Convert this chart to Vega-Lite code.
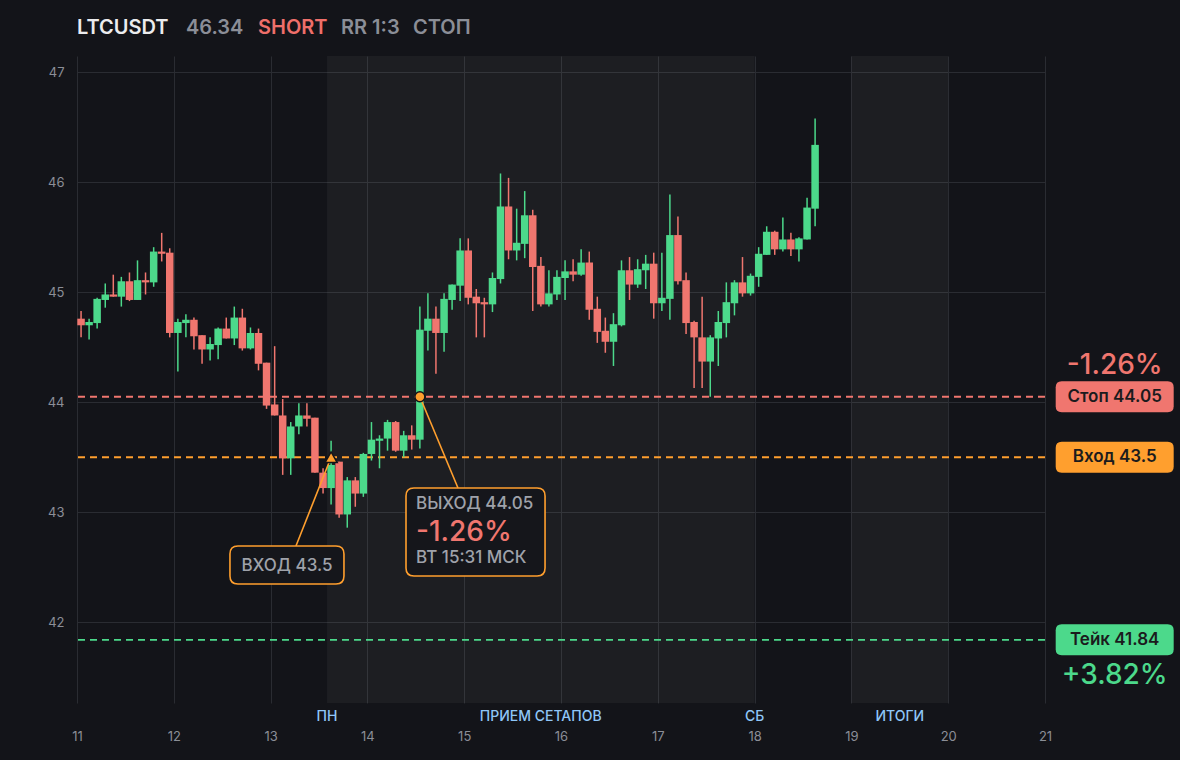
{
  "$schema": "https://vega.github.io/schema/vega-lite/v6.json",
  "width": 968,
  "height": 647,
  "autosize": {"type": "none"},
  "padding": {"left": 77, "top": 56, "right": 135, "bottom": 57},
  "background": "#131419",
  "config": {
    "view": {"stroke": null, "fill": "#131419"},
    "font": "Inter",
    "axis": {"labelFont": "Inter"}
  },
  "datasets": {
    "one": [{}],
    "bands": [
      {"start": 13.583, "end": 18},
      {"start": 19, "end": 20}
    ],
    "bandLabels": [
      {"at": 13.583, "text": "ПН"},
      {"at": 15.79, "text": "ПРИЕМ СЕТАПОВ"},
      {"at": 18, "text": "СБ"},
      {"at": 19.5, "text": "ИТОГИ"}
    ],
    "levels": [
      {"name": "Стоп", "price": 44.05, "label": "Стоп 44.05"},
      {"name": "Вход", "price": 43.5, "label": "Вход 43.5"},
      {"name": "Тейк", "price": 41.84, "label": "Тейк 41.84"}
    ],
    "trades": [
      {"kind": "entry", "t": 13.625, "price": 43.5, "bt": 13.262, "bp": 42.694},
      {"kind": "exit", "t": 14.542, "price": 44.05, "bt": 14.936, "bp": 43.221}
    ],
    "candles": [
      {"t": 11.042, "o": 44.76, "h": 44.83, "l": 44.59, "c": 44.70},
      {"t": 11.125, "o": 44.70, "h": 44.76, "l": 44.57, "c": 44.73},
      {"t": 11.208, "o": 44.72, "h": 44.95, "l": 44.67, "c": 44.94},
      {"t": 11.292, "o": 44.93, "h": 45.08, "l": 44.86, "c": 44.98},
      {"t": 11.375, "o": 44.98, "h": 45.16, "l": 44.96, "c": 44.96},
      {"t": 11.458, "o": 44.96, "h": 45.14, "l": 44.87, "c": 45.10},
      {"t": 11.542, "o": 45.10, "h": 45.18, "l": 44.92, "c": 44.93},
      {"t": 11.625, "o": 44.93, "h": 45.29, "l": 44.93, "c": 45.11},
      {"t": 11.708, "o": 45.11, "h": 45.18, "l": 44.98, "c": 45.09},
      {"t": 11.792, "o": 45.09, "h": 45.41, "l": 45.05, "c": 45.37},
      {"t": 11.875, "o": 45.37, "h": 45.54, "l": 45.28, "c": 45.35},
      {"t": 11.958, "o": 45.36, "h": 45.40, "l": 44.59, "c": 44.63},
      {"t": 12.042, "o": 44.63, "h": 44.76, "l": 44.28, "c": 44.73},
      {"t": 12.125, "o": 44.72, "h": 44.80, "l": 44.59, "c": 44.75},
      {"t": 12.208, "o": 44.75, "h": 44.77, "l": 44.48, "c": 44.60},
      {"t": 12.292, "o": 44.61, "h": 44.61, "l": 44.35, "c": 44.48},
      {"t": 12.375, "o": 44.48, "h": 44.59, "l": 44.38, "c": 44.53},
      {"t": 12.458, "o": 44.52, "h": 44.68, "l": 44.39, "c": 44.67},
      {"t": 12.542, "o": 44.67, "h": 44.77, "l": 44.58, "c": 44.58},
      {"t": 12.625, "o": 44.58, "h": 44.87, "l": 44.52, "c": 44.77},
      {"t": 12.708, "o": 44.77, "h": 44.85, "l": 44.47, "c": 44.49},
      {"t": 12.792, "o": 44.49, "h": 44.68, "l": 44.48, "c": 44.63},
      {"t": 12.875, "o": 44.63, "h": 44.67, "l": 44.29, "c": 44.35},
      {"t": 12.958, "o": 44.36, "h": 44.36, "l": 43.94, "c": 43.97},
      {"t": 13.042, "o": 43.98, "h": 44.51, "l": 43.88, "c": 43.88},
      {"t": 13.125, "o": 43.88, "h": 44.03, "l": 43.34, "c": 43.49},
      {"t": 13.208, "o": 43.49, "h": 43.82, "l": 43.34, "c": 43.78},
      {"t": 13.292, "o": 43.78, "h": 43.99, "l": 43.71, "c": 43.88},
      {"t": 13.375, "o": 43.88, "h": 43.99, "l": 43.78, "c": 43.85},
      {"t": 13.458, "o": 43.86, "h": 43.86, "l": 43.36, "c": 43.36},
      {"t": 13.542, "o": 43.36, "h": 43.40, "l": 43.17, "c": 43.22},
      {"t": 13.625, "o": 43.22, "h": 43.65, "l": 43.07, "c": 43.43},
      {"t": 13.708, "o": 43.46, "h": 43.46, "l": 42.95, "c": 42.98},
      {"t": 13.792, "o": 42.98, "h": 43.32, "l": 42.86, "c": 43.29},
      {"t": 13.875, "o": 43.29, "h": 43.32, "l": 43.05, "c": 43.17},
      {"t": 13.958, "o": 43.17, "h": 43.54, "l": 43.14, "c": 43.53},
      {"t": 14.042, "o": 43.53, "h": 43.82, "l": 43.47, "c": 43.66},
      {"t": 14.125, "o": 43.65, "h": 43.70, "l": 43.40, "c": 43.67},
      {"t": 14.208, "o": 43.67, "h": 43.84, "l": 43.56, "c": 43.82},
      {"t": 14.292, "o": 43.82, "h": 43.83, "l": 43.55, "c": 43.56},
      {"t": 14.375, "o": 43.56, "h": 43.74, "l": 43.50, "c": 43.70},
      {"t": 14.458, "o": 43.70, "h": 43.79, "l": 43.57, "c": 43.66},
      {"t": 14.542, "o": 43.66, "h": 44.87, "l": 43.58, "c": 44.66},
      {"t": 14.625, "o": 44.65, "h": 44.99, "l": 44.47, "c": 44.76},
      {"t": 14.708, "o": 44.76, "h": 44.87, "l": 44.26, "c": 44.63},
      {"t": 14.792, "o": 44.63, "h": 44.99, "l": 44.46, "c": 44.94},
      {"t": 14.875, "o": 44.93, "h": 45.07, "l": 44.84, "c": 45.07},
      {"t": 14.958, "o": 45.06, "h": 45.49, "l": 44.92, "c": 45.38},
      {"t": 15.042, "o": 45.38, "h": 45.49, "l": 44.89, "c": 44.95},
      {"t": 15.125, "o": 44.96, "h": 45.03, "l": 44.59, "c": 44.90},
      {"t": 15.208, "o": 44.91, "h": 44.95, "l": 44.59, "c": 44.89},
      {"t": 15.292, "o": 44.89, "h": 45.18, "l": 44.82, "c": 45.13},
      {"t": 15.375, "o": 45.12, "h": 46.08, "l": 45.08, "c": 45.78},
      {"t": 15.458, "o": 45.78, "h": 46.04, "l": 45.30, "c": 45.38},
      {"t": 15.542, "o": 45.38, "h": 45.76, "l": 45.29, "c": 45.45},
      {"t": 15.625, "o": 45.44, "h": 45.92, "l": 45.31, "c": 45.70},
      {"t": 15.708, "o": 45.70, "h": 45.75, "l": 44.83, "c": 45.23},
      {"t": 15.792, "o": 45.24, "h": 45.32, "l": 44.87, "c": 44.89},
      {"t": 15.875, "o": 44.89, "h": 45.20, "l": 44.87, "c": 44.99},
      {"t": 15.958, "o": 44.98, "h": 45.20, "l": 44.93, "c": 45.14},
      {"t": 16.042, "o": 45.13, "h": 45.29, "l": 44.93, "c": 45.19},
      {"t": 16.125, "o": 45.19, "h": 45.30, "l": 45.10, "c": 45.16},
      {"t": 16.208, "o": 45.16, "h": 45.39, "l": 45.15, "c": 45.27},
      {"t": 16.292, "o": 45.27, "h": 45.37, "l": 44.75, "c": 44.84},
      {"t": 16.375, "o": 44.85, "h": 44.96, "l": 44.54, "c": 44.64},
      {"t": 16.458, "o": 44.65, "h": 44.77, "l": 44.45, "c": 44.55},
      {"t": 16.542, "o": 44.55, "h": 44.81, "l": 44.33, "c": 44.71},
      {"t": 16.625, "o": 44.70, "h": 45.29, "l": 44.69, "c": 45.20},
      {"t": 16.708, "o": 45.20, "h": 45.32, "l": 44.93, "c": 45.07},
      {"t": 16.792, "o": 45.07, "h": 45.30, "l": 45.04, "c": 45.21},
      {"t": 16.875, "o": 45.20, "h": 45.34, "l": 45.03, "c": 45.26},
      {"t": 16.958, "o": 45.26, "h": 45.36, "l": 44.76, "c": 44.90},
      {"t": 17.042, "o": 44.90, "h": 45.36, "l": 44.83, "c": 44.95},
      {"t": 17.125, "o": 44.94, "h": 45.89, "l": 44.75, "c": 45.52},
      {"t": 17.208, "o": 45.52, "h": 45.69, "l": 45.07, "c": 45.10},
      {"t": 17.292, "o": 45.11, "h": 45.18, "l": 44.62, "c": 44.72},
      {"t": 17.375, "o": 44.73, "h": 44.74, "l": 44.13, "c": 44.59},
      {"t": 17.458, "o": 44.59, "h": 44.96, "l": 44.13, "c": 44.37},
      {"t": 17.542, "o": 44.37, "h": 44.61, "l": 44.05, "c": 44.59},
      {"t": 17.625, "o": 44.58, "h": 44.83, "l": 44.33, "c": 44.73},
      {"t": 17.708, "o": 44.72, "h": 45.09, "l": 44.59, "c": 44.91},
      {"t": 17.792, "o": 44.90, "h": 45.11, "l": 44.79, "c": 45.09},
      {"t": 17.875, "o": 45.09, "h": 45.32, "l": 44.96, "c": 44.99},
      {"t": 17.958, "o": 44.99, "h": 45.17, "l": 44.97, "c": 45.15},
      {"t": 18.042, "o": 45.14, "h": 45.41, "l": 45.05, "c": 45.35},
      {"t": 18.125, "o": 45.34, "h": 45.60, "l": 45.34, "c": 45.55},
      {"t": 18.208, "o": 45.55, "h": 45.56, "l": 45.34, "c": 45.39},
      {"t": 18.292, "o": 45.39, "h": 45.68, "l": 45.37, "c": 45.48},
      {"t": 18.375, "o": 45.48, "h": 45.54, "l": 45.33, "c": 45.39},
      {"t": 18.458, "o": 45.39, "h": 45.50, "l": 45.28, "c": 45.49},
      {"t": 18.542, "o": 45.48, "h": 45.86, "l": 45.48, "c": 45.77},
      {"t": 18.625, "o": 45.76, "h": 46.58, "l": 45.60, "c": 46.34}
    ]
  },
  "layer": [
    {
      "data": {"name": "bands"},
      "mark": {"type": "rect", "fill": "#ffffff", "opacity": 0.045},
      "encoding": {
        "x": {
          "field": "start", "type": "quantitative",
          "scale": {"domain": [11, 21], "nice": false, "zero": false, "padding": 0},
          "axis": {
            "values": [11, 12, 13, 14, 15, 16, 17, 18, 19, 20, 21],
            "format": "d",
            "grid": true, "gridColor": "#2a2c32", "gridWidth": 1,
            "ticks": false, "domain": false, "title": null,
            "labelColor": "#8b8e97", "labelFontSize": 13, "labelPadding": 27,
            "labelFlush": false
          }
        },
        "x2": {"field": "end"}
      }
    },
    {
      "data": {"name": "levels"},
      "mark": {"type": "rule", "strokeDash": [7, 5], "strokeWidth": 1.8},
      "encoding": {
        "y": {
          "field": "price", "type": "quantitative",
          "scale": {"domain": [41.266, 47.148], "nice": false, "zero": false},
          "axis": {
            "values": [42, 43, 44, 45, 46, 47],
            "format": "d",
            "grid": true, "gridColor": "#2a2c32", "gridWidth": 1,
            "ticks": false, "domain": false, "title": null,
            "labelColor": "#8b8e97", "labelFontSize": 13, "labelPadding": 13
          }
        },
        "color": {
          "field": "name", "type": "nominal",
          "scale": {"domain": ["Стоп", "Вход", "Тейк"], "range": ["#f0766f", "#ff9f2e", "#4cd98b"]},
          "legend": null
        }
      }
    },
    {
      "data": {"name": "candles"},
      "mark": {"type": "rule", "strokeWidth": 1.5},
      "encoding": {
        "x": {"field": "t", "type": "quantitative"},
        "y": {"field": "l", "type": "quantitative"},
        "y2": {"field": "h"},
        "color": {"condition": {"test": "datum.c >= datum.o", "value": "#4cd98b"}, "value": "#f0766f"}
      }
    },
    {
      "data": {"name": "candles"},
      "mark": {"type": "bar", "width": 7.5},
      "encoding": {
        "x": {"field": "t", "type": "quantitative"},
        "y": {"field": "o", "type": "quantitative"},
        "y2": {"field": "c"},
        "color": {"condition": {"test": "datum.c >= datum.o", "value": "#4cd98b"}, "value": "#f0766f"}
      }
    },
    {
      "data": {"name": "trades"},
      "mark": {"type": "rule", "color": "#ff9f2e", "strokeWidth": 1.6},
      "encoding": {
        "x": {"field": "t", "type": "quantitative"},
        "y": {"field": "price", "type": "quantitative"},
        "x2": {"field": "bt"},
        "y2": {"field": "bp"}
      }
    },
    {
      "data": {"name": "trades"},
      "mark": {"type": "point", "filled": true, "opacity": 1, "fill": "#ff9f2e", "stroke": "#131419", "strokeWidth": 1.5},
      "encoding": {
        "x": {"field": "t", "type": "quantitative"},
        "y": {"field": "price", "type": "quantitative"},
        "shape": {"field": "kind", "type": "nominal", "scale": {"domain": ["entry", "exit"], "range": ["triangle-up", "circle"]}, "legend": null},
        "size": {"field": "kind", "type": "nominal", "scale": {"domain": ["entry", "exit"], "range": [150, 100]}, "legend": null}
      }
    },
    {
      "data": {"name": "one"},
      "mark": {
        "type": "point", "filled": true, "opacity": 1, "fill": "#15161b", "stroke": "#ff9f2e", "strokeWidth": 1.6,
        "size": 1444,
        "shape": "M -2.58,-1 L 2.58,-1 Q 3,-1 3,-0.58 L 3,0.58 Q 3,1 2.58,1 L -2.58,1 Q -3,1 -3,0.58 L -3,-0.58 Q -3,-1 -2.58,-1 Z"
      },
      "encoding": {
        "x": {"datum": 13.169, "type": "quantitative"},
        "y": {"datum": 42.521, "type": "quantitative"}
      }
    },
    {
      "data": {"name": "one"},
      "mark": {
        "type": "point", "filled": true, "opacity": 1, "fill": "#15161b", "stroke": "#ff9f2e", "strokeWidth": 1.6,
        "size": 7744,
        "shape": "M -1.4,-1 L 1.4,-1 Q 1.58,-1 1.58,-0.82 L 1.58,0.82 Q 1.58,1 1.4,1 L -1.4,1 Q -1.58,1 -1.58,0.82 L -1.58,-0.82 Q -1.58,-1 -1.4,-1 Z"
      },
      "encoding": {
        "x": {"datum": 15.117, "type": "quantitative"},
        "y": {"datum": 42.821, "type": "quantitative"}
      }
    },
    {
      "data": {"name": "one"},
      "mark": {"type": "text", "text": "ВХОД 43.5", "fontSize": 17, "fontWeight": 500, "fill": "#9fa2aa", "align": "center", "baseline": "middle"},
      "encoding": {
        "x": {"datum": 13.169, "type": "quantitative"},
        "y": {"datum": 42.515, "type": "quantitative"}
      }
    },
    {
      "data": {"name": "one"},
      "mark": {"type": "text", "text": "ВЫХОД 44.05", "fontSize": 17, "fontWeight": 500, "fill": "#9fa2aa", "align": "left", "baseline": "middle"},
      "encoding": {
        "x": {"datum": 14.502, "type": "quantitative"},
        "y": {"datum": 43.075, "type": "quantitative"}
      }
    },
    {
      "data": {"name": "one"},
      "mark": {"type": "text", "text": "-1.26%", "fontSize": 28, "fontWeight": 500, "fill": "#f0766f", "align": "left", "baseline": "middle"},
      "encoding": {
        "x": {"datum": 14.502, "type": "quantitative"},
        "y": {"datum": 42.815, "type": "quantitative"}
      }
    },
    {
      "data": {"name": "one"},
      "mark": {"type": "text", "text": "ВТ 15:31 МСК", "fontSize": 17, "fontWeight": 500, "fill": "#9fa2aa", "align": "left", "baseline": "middle"},
      "encoding": {
        "x": {"datum": 14.502, "type": "quantitative"},
        "y": {"datum": 42.585, "type": "quantitative"}
      }
    },
    {
      "data": {"name": "levels"},
      "mark": {
        "type": "point", "filled": true, "opacity": 1, "size": 961,
        "shape": "M -3.42,-1 L 3.42,-1 Q 3.806,-1 3.806,-0.613 L 3.806,0.613 Q 3.806,1 3.42,1 L -3.42,1 Q -3.806,1 -3.806,0.613 L -3.806,-0.613 Q -3.806,-1 -3.42,-1 Z"
      },
      "encoding": {
        "x": {"datum": 21.72, "type": "quantitative"},
        "y": {"field": "price", "type": "quantitative"},
        "color": {"field": "name", "type": "nominal", "legend": null}
      }
    },
    {
      "data": {"name": "levels"},
      "mark": {"type": "text", "fontSize": 17, "fontWeight": 600, "fill": "#1b1b1d", "align": "center", "baseline": "middle"},
      "encoding": {
        "x": {"datum": 21.72, "type": "quantitative"},
        "y": {"field": "price", "type": "quantitative"},
        "text": {"field": "label"}
      }
    },
    {
      "data": {"name": "one"},
      "mark": {"type": "text", "text": "-1.26%", "fontSize": 28, "fontWeight": 500, "fill": "#f0766f", "align": "center", "baseline": "middle"},
      "encoding": {
        "x": {"datum": 21.72, "type": "quantitative"},
        "y": {"datum": 44.33, "type": "quantitative"}
      }
    },
    {
      "data": {"name": "one"},
      "mark": {"type": "text", "text": "+3.82%", "fontSize": 28, "fontWeight": 500, "fill": "#4cd98b", "align": "center", "baseline": "middle"},
      "encoding": {
        "x": {"datum": 21.72, "type": "quantitative"},
        "y": {"datum": 41.512, "type": "quantitative"}
      }
    },
    {
      "data": {"name": "bandLabels"},
      "mark": {"type": "text", "fontSize": 14, "fontWeight": 500, "fill": "#8fc6f7", "align": "center", "baseline": "middle"},
      "encoding": {
        "x": {"field": "at", "type": "quantitative"},
        "y": {"datum": 41.139, "type": "quantitative"},
        "text": {"field": "text"}
      }
    },
    {
      "data": {"name": "one"},
      "mark": {"type": "text", "text": "LTCUSDT", "fontSize": 20, "fontWeight": 600, "fill": "#ececee", "align": "left", "baseline": "middle"},
      "encoding": {"x": {"datum": 11.0, "type": "quantitative"}, "y": {"datum": 47.403, "type": "quantitative"}}
    },
    {
      "data": {"name": "one"},
      "mark": {"type": "text", "text": "46.34", "fontSize": 20, "fontWeight": 600, "fill": "#8b8e97", "align": "left", "baseline": "middle"},
      "encoding": {"x": {"datum": 12.126, "type": "quantitative"}, "y": {"datum": 47.403, "type": "quantitative"}}
    },
    {
      "data": {"name": "one"},
      "mark": {"type": "text", "text": "SHORT", "fontSize": 20, "fontWeight": 600, "fill": "#ef6f6a", "align": "left", "baseline": "middle"},
      "encoding": {"x": {"datum": 12.87, "type": "quantitative"}, "y": {"datum": 47.403, "type": "quantitative"}}
    },
    {
      "data": {"name": "one"},
      "mark": {"type": "text", "text": "RR 1:3", "fontSize": 20, "fontWeight": 600, "fill": "#8b8e97", "align": "left", "baseline": "middle"},
      "encoding": {"x": {"datum": 13.727, "type": "quantitative"}, "y": {"datum": 47.403, "type": "quantitative"}}
    },
    {
      "data": {"name": "one"},
      "mark": {"type": "text", "text": "СТОП", "fontSize": 20, "fontWeight": 600, "fill": "#8b8e97", "align": "left", "baseline": "middle"},
      "encoding": {"x": {"datum": 14.471, "type": "quantitative"}, "y": {"datum": 47.403, "type": "quantitative"}}
    }
  ]
}
